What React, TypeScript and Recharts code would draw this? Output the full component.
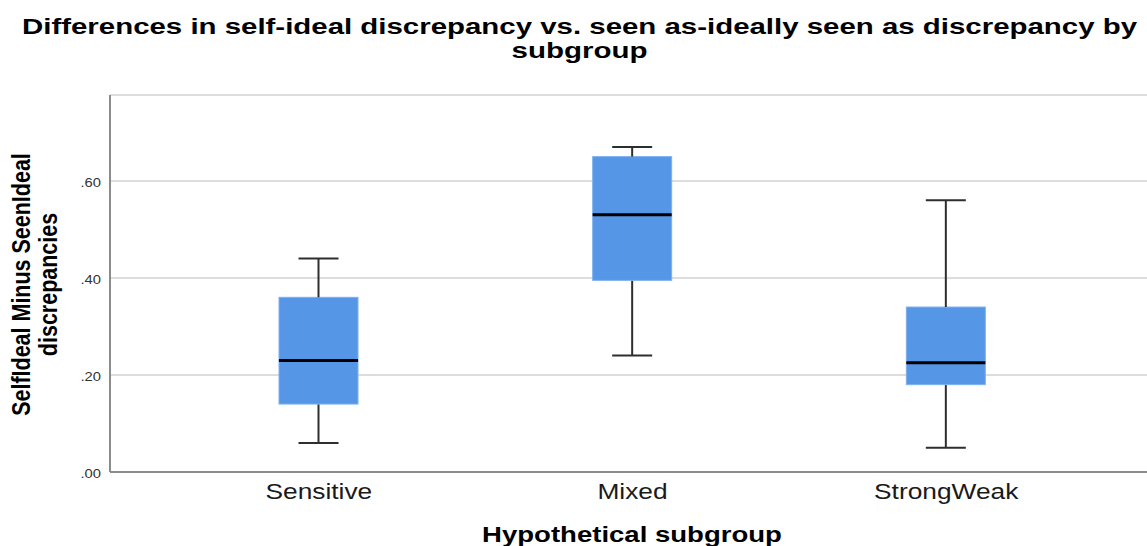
import React from 'react';
import { ComposedChart, Bar, XAxis, YAxis, CartesianGrid } from 'recharts';

const groups = ['Sensitive', 'Mixed', 'StrongWeak'];
const minimums = [0.06, 0.24, 0.05];
const lowerQuartiles = [0.14, 0.395, 0.18];
const medians = [0.23, 0.53, 0.225];
const upperQuartiles = [0.36, 0.65, 0.34];
const maximums = [0.44, 0.67, 0.56];
const yTicks = [0, 0.2, 0.4, 0.6];

const title1 = 'Differences in self-ideal discrepancy vs. seen as-ideally seen as discrepancy by';
const title2 = 'subgroup';
const yTitle1 = 'SelfIdeal Minus SeenIdeal';
const yTitle2 = 'discrepancies';
const xTitle = 'Hypothetical subgroup';

// stacked segments: invisible base, lower whisker, lower box, upper box, upper whisker
const data = groups.map((g, i) => ({
  group: g,
  base: minimums[i],
  lowWhisker: lowerQuartiles[i] - minimums[i],
  lowBox: medians[i] - lowerQuartiles[i],
  highBox: upperQuartiles[i] - medians[i],
  highWhisker: maximums[i] - upperQuartiles[i],
}));

const W = 1147;
const H = 546;
const STRETCH = 1.23;
const FONT = "'Liberation Sans', Arial, sans-serif";
const BOX = '#5596e6';
const WHISKER = '#2e2e2e';
const CAP = 40;

const Empty = () => null;

const LowWhisker = (p: any) => {
  const cx = p.x + p.width / 2;
  return (
    <g>
      <line x1={cx} x2={cx} y1={p.y} y2={p.y + p.height} stroke={WHISKER} strokeWidth={2} />
      <line x1={cx - CAP / 2} x2={cx + CAP / 2} y1={p.y + p.height} y2={p.y + p.height} stroke={WHISKER} strokeWidth={2} />
    </g>
  );
};

const HighWhisker = (p: any) => {
  const cx = p.x + p.width / 2;
  return (
    <g>
      <line x1={cx} x2={cx} y1={p.y} y2={p.y + p.height} stroke={WHISKER} strokeWidth={2} />
      <line x1={cx - CAP / 2} x2={cx + CAP / 2} y1={p.y} y2={p.y} stroke={WHISKER} strokeWidth={2} />
    </g>
  );
};

const LowBox = (p: any) => (
  <rect x={p.x} y={p.y} width={p.width} height={p.height} fill={BOX} stroke="#7eb0ee" strokeWidth={1} />
);

const HighBox = (p: any) => (
  <g>
    <rect x={p.x} y={p.y} width={p.width} height={p.height} fill={BOX} stroke="#7eb0ee" strokeWidth={1} />
    <line x1={p.x} x2={p.x + p.width} y1={p.y + p.height} y2={p.y + p.height} stroke="#000" strokeWidth={3} />
  </g>
);

const XTick = ({ x, y, payload }: any) => (
  <g transform={`translate(${x},${y}) scale(${STRETCH},1)`}>
    <text x={0} y={27} textAnchor="middle" fontSize={21.4} fontFamily={FONT} fill="#1a1a1a">
      {payload.value}
    </text>
  </g>
);

const YTick = ({ y, payload }: any) => (
  <g transform={`translate(101,${y}) scale(${STRETCH},1)`}>
    <text x={0} y={6} textAnchor="end" fontSize={12} fontFamily={FONT} fill="#333">
      {payload.value.toFixed(2).replace(/^0/, '')}
    </text>
  </g>
);

export default function App() {
  return (
    <div style={{ position: 'absolute', left: 0, top: 0, width: W, height: H, background: '#fff', overflow: 'hidden' }}>
      <ComposedChart
        width={W}
        height={H}
        data={data}
        margin={{ top: 95, right: 0, bottom: 34, left: 0 }}
        barSize={79}
      >
        <CartesianGrid vertical={false} stroke="#d2d2d2" strokeWidth={1.5} />
        <XAxis
          dataKey="group"
          height={40}
          padding={{ left: 52, right: 44 }}
          tickLine={false}
          tickSize={0}
          tickMargin={0}
          axisLine={{ stroke: '#8c8c8c', strokeWidth: 2 }}
          tick={<XTick />}
          interval={0}
        />
        <YAxis
          width={110}
          domain={[0, 0.777]}
          ticks={yTicks}
          tickLine={false}
          tickSize={0}
          axisLine={{ stroke: '#8c8c8c', strokeWidth: 2 }}
          tick={<YTick />}
        />
        <Bar dataKey="base" stackId="box" shape={<Empty />} isAnimationActive={false} />
        <Bar dataKey="lowWhisker" stackId="box" shape={<LowWhisker />} isAnimationActive={false} />
        <Bar dataKey="lowBox" stackId="box" shape={<LowBox />} isAnimationActive={false} />
        <Bar dataKey="highBox" stackId="box" shape={<HighBox />} isAnimationActive={false} />
        <Bar dataKey="highWhisker" stackId="box" shape={<HighWhisker />} isAnimationActive={false} />
      </ComposedChart>
      <svg
        width={W}
        height={H}
        style={{ position: 'absolute', left: 0, top: 0, pointerEvents: 'none' }}
      >
        <text x={579.5} y={34} textAnchor="middle" fontSize={22.4} fontWeight="bold" fontFamily={FONT}
          textLength={1115} lengthAdjust="spacingAndGlyphs" fill="#000">
          {title1}
        </text>
        <text x={579.5} y={58} textAnchor="middle" fontSize={22.4} fontWeight="bold" fontFamily={FONT}
          textLength={136} lengthAdjust="spacingAndGlyphs" fill="#000">
          {title2}
        </text>
        <g transform={`translate(0,284.5) scale(${STRETCH},1) rotate(-90)`}>
          <text x={0} y={24.4} textAnchor="middle" fontSize={21.5} fontWeight="bold" fontFamily={FONT} fill="#000">
            {yTitle1}
          </text>
          <text x={0} y={46} textAnchor="middle" fontSize={21.5} fontWeight="bold" fontFamily={FONT} fill="#000">
            {yTitle2}
          </text>
        </g>
        <g transform={`translate(632,542) scale(${STRETCH},1)`}>
          <text x={0} y={0} textAnchor="middle" fontSize={22.4} fontWeight="bold" fontFamily={FONT} fill="#000">
            {xTitle}
          </text>
        </g>
      </svg>
    </div>
  );
}
